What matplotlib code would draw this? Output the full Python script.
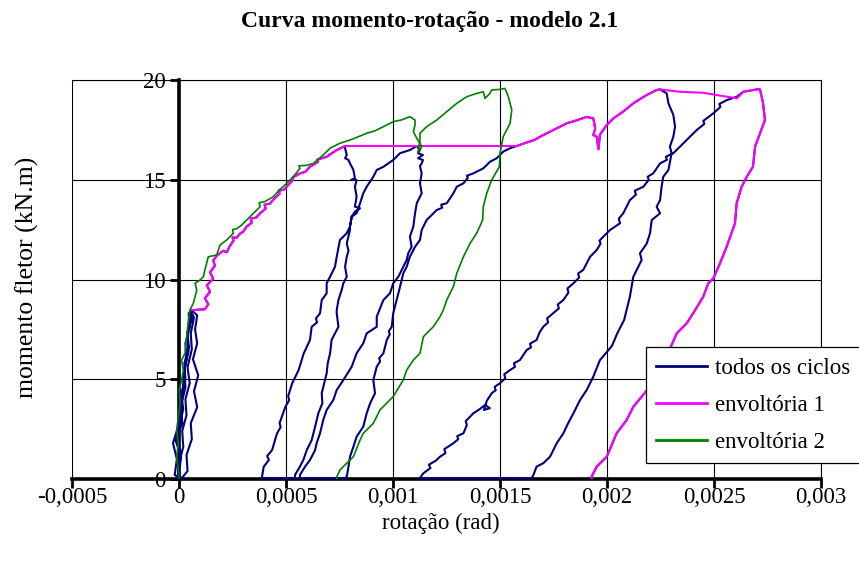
import matplotlib
matplotlib.use("Agg")
import matplotlib.pyplot as plt
import numpy as np

plt.rcParams['font.family'] = ['Liberation Serif', 'DejaVu Serif']

# Rotation values are stored in units of 1e-4 rad, moments in kN.m.
ROT_UNIT = 1e-4

x_ticks = [-0.0005, 0, 0.0005, 0.001, 0.0015, 0.002, 0.0025, 0.003]
x_tick_labels = ["-0,0005", "0", "0,0005", "0,001", "0,0015", "0,002", "0,0025", "0,003"]
y_ticks = [0, 5, 10, 15, 20]
y_tick_labels = ["0", "5", "10", "15", "20"]

series_names = ["todos os ciclos", "envoltória 1", "envoltória 2"]

# --- envoltória 1 -----------------------------------------------------------
env1_rise = [(0.59, 8.46), (1.21, 8.51), (1.37, 8.76), (1.21, 9.06), (1.45, 9.39),
             (1.30, 9.71), (1.60, 10.04), (1.45, 10.36), (1.68, 10.69), (1.60, 10.95),
             (1.76, 11.19), (2.07, 11.44), (2.23, 11.36), (2.38, 11.69), (2.55, 11.95),
             (2.50, 12.10), (2.70, 12.10), (2.85, 12.30), (3.00, 12.40), (3.16, 12.65),
             (3.40, 12.85), (3.35, 13.05), (3.60, 13.10), (3.79, 13.32), (4.05, 13.55),
             (4.00, 13.75), (4.25, 13.80), (4.39, 13.98), (4.70, 14.30), (4.65, 14.45),
             (4.90, 14.50), (5.03, 14.65), (5.33, 14.99), (5.30, 15.10), (5.65, 15.32),
             (5.90, 15.40), (6.12, 15.65), (6.50, 15.90), (6.45, 16.00), (6.90, 16.15),
             (7.10, 16.30), (7.37, 16.49), (7.76, 16.69)]
env1_mid = [(15.78, 16.69), (16.20, 16.85), (16.60, 16.99), (16.95, 17.20), (17.34, 17.41),
            (17.70, 17.60), (18.12, 17.83), (18.50, 17.95), (19.05, 18.15), (19.36, 18.07),
            (19.45, 17.57), (19.36, 17.24), (19.52, 17.16), (19.60, 16.53), (19.67, 17.26),
            (19.99, 17.75), (20.30, 18.08), (20.76, 18.42), (21.23, 18.83), (21.55, 19.05),
            (21.86, 19.25), (22.32, 19.50), (22.48, 19.53)]
env1_top = [(23.41, 19.41), (24.49, 19.36), (26.07, 19.08), (26.37, 19.41),
            (27.01, 19.53), (27.15, 19.53)]
env1_unload = [(27.29, 18.85), (27.38, 17.99), (27.15, 17.33), (26.92, 16.66), (26.82, 15.65),
               (26.53, 15.15), (26.29, 14.65), (26.06, 13.82), (25.98, 12.82), (25.59, 11.64),
               (25.28, 10.81), (24.97, 10.06), (24.73, 9.81), (24.50, 9.14), (24.03, 8.31),
               (23.72, 7.80), (23.26, 7.30), (23.02, 6.72), (22.63, 5.80), (22.01, 4.63),
               (21.23, 3.62), (20.92, 2.96), (20.45, 2.29), (19.99, 1.12), (19.52, 0.62),
               (19.28, 0.12), (19.28, 0.0)]

# --- envoltória 2 -----------------------------------------------------------
env2 = [(0, 0), (-0.03, 0.45), (-0.11, 1.12), (-0.03, 1.79), (-0.11, 2.46), (-0.03, 3.12),
        (0.05, 3.79), (0.01, 4.46), (0.12, 4.96), (0.20, 5.46), (0.12, 5.96), (0.28, 6.30),
        (0.36, 7.13), (0.44, 7.97), (0.51, 8.47), (0.67, 8.81), (0.83, 9.47), (0.75, 9.81),
        (0.98, 9.97), (1.14, 10.14), (1.21, 10.48), (1.29, 10.81), (1.37, 11.14), (1.76, 11.23),
        (1.92, 11.73), (2.23, 11.98), (2.54, 12.32), (2.50, 12.50), (2.70, 12.55), (2.93, 12.73),
        (3.32, 13.15), (3.79, 13.65), (3.75, 13.85), (4.00, 13.90), (4.41, 14.15), (4.70, 14.50),
        (5.03, 14.82), (5.34, 15.15), (5.65, 15.57), (5.60, 15.70), (5.95, 15.72), (6.28, 15.82),
        (6.74, 16.24), (7.06, 16.58), (7.52, 16.83), (7.99, 16.99), (8.46, 17.19), (8.77, 17.33),
        (9.15, 17.45), (9.55, 17.66), (10.01, 17.91), (10.40, 18.00), (10.79, 18.16),
        (11.03, 17.99), (11.03, 17.74), (10.95, 17.41), (11.11, 17.08), (11.26, 16.83),
        (11.34, 16.66), (11.26, 16.49), (11.17, 16.39), (11.26, 16.99), (11.26, 17.33),
        (11.57, 17.66), (12.04, 17.99), (12.51, 18.41), (12.98, 18.83), (13.44, 19.16),
        (13.91, 19.33), (14.22, 19.41), (14.30, 19.08), (14.53, 19.33), (14.61, 19.50),
        (15.00, 19.53), (15.23, 19.58), (15.39, 19.16), (15.55, 18.50), (15.47, 17.83),
        (15.15, 17.16), (15.00, 16.33), (14.97, 15.65), (14.61, 14.99), (14.38, 14.32),
        (14.22, 13.65), (14.19, 12.98), (13.91, 12.32), (13.60, 11.81), (13.29, 11.14),
        (12.98, 10.31), (12.82, 9.64), (12.51, 8.97), (12.35, 8.47), (12.20, 8.14),
        (11.88, 7.63), (11.42, 7.13), (11.26, 6.30), (10.95, 5.96), (10.64, 5.46),
        (10.48, 4.96), (10.01, 4.13), (9.39, 3.46), (9.08, 2.79), (8.61, 2.29), (8.46, 1.95),
        (8.15, 1.12), (7.84, 0.79), (7.52, 0.45), (7.37, 0.10), (7.37, 0.0)]

# --- todos os ciclos ----------------------------------------------------------
cyc_initial = [(0, 0), (-0.05, 0.6), (0.10, 1.3), (-0.10, 2.0), (0.05, 2.8), (0.20, 3.5),
               (0.10, 4.3), (0.30, 5.0), (0.25, 5.8), (0.45, 6.6), (0.40, 7.4), (0.60, 8.0),
               (0.55, 8.4), (0.70, 8.1), (0.55, 7.3), (0.60, 6.5), (0.40, 5.6), (0.50, 4.8),
               (0.30, 4.0), (0.35, 3.2), (0.15, 2.4), (0.20, 1.6), (0.00, 0.8), (-0.05, 0.1),
               (-0.20, 0.2), (-0.10, 1.0), (-0.28, 1.8), (-0.05, 2.6), (0.05, 3.5), (0.20, 4.3),
               (0.20, 5.2), (0.35, 6.0), (0.30, 6.8), (0.50, 7.6), (0.45, 8.3), (0.60, 8.45),
               (0.85, 8.2), (0.75, 7.5), (0.85, 6.8), (0.65, 6.0), (0.90, 5.2), (0.70, 4.4),
               (0.85, 3.6), (0.55, 2.8), (0.60, 2.0), (0.35, 1.2), (0.40, 0.4), (0.10, 0.0),
               (0.00, 0.3), (0.10, 1.1), (-0.15, 1.9), (0.15, 2.8), (0.10, 3.7), (0.30, 4.6),
               (0.25, 5.5), (0.45, 6.4), (0.40, 7.3), (0.59, 8.46)]
cyc_unload1 = [(7.76, 16.58), (7.84, 16.24), (7.76, 16.08), (7.92, 15.99), (7.99, 15.82),
               (8.15, 15.49), (8.22, 15.07), (8.04, 14.99), (8.30, 14.99), (8.22, 14.65),
               (8.30, 14.15), (8.22, 13.65), (8.46, 13.57), (8.22, 13.40), (8.07, 13.15),
               (7.99, 12.65), (7.99, 12.48), (7.84, 11.81), (7.92, 11.45), (7.84, 11.14),
               (7.76, 10.64), (7.84, 10.14), (7.68, 9.81), (7.60, 9.47), (7.45, 8.97),
               (7.37, 8.47), (7.37, 8.31), (7.45, 7.63), (7.13, 6.97), (7.06, 6.30),
               (6.95, 5.80), (6.90, 5.30), (6.67, 4.30), (6.70, 3.80), (6.51, 3.29),
               (6.36, 2.62), (6.20, 1.95), (5.97, 1.45), (5.81, 0.95), (5.65, 0.62),
               (5.42, 0.20), (5.42, 0.05), (4.60, 0.05)]
cyc_reload2 = [(3.88, 0.05), (3.88, 0.12), (3.96, 0.62), (4.20, 0.95), (4.12, 1.15),
               (4.35, 1.45), (4.58, 2.29), (4.75, 2.60), (4.70, 2.80), (4.97, 3.62),
               (5.15, 3.95), (5.10, 4.15), (5.29, 4.80), (5.59, 5.46), (5.83, 6.30),
               (6.12, 6.97), (6.20, 7.63), (6.45, 7.85), (6.40, 8.05), (6.59, 8.31),
               (6.67, 8.97), (6.90, 9.31), (6.90, 9.81), (7.06, 10.14), (7.29, 10.64),
               (7.37, 11.14), (7.52, 11.98), (7.84, 12.32), (7.99, 12.65), (8.07, 13.15),
               (8.30, 13.32), (8.46, 13.82), (8.61, 14.32), (8.77, 14.65), (9.08, 15.15),
               (9.24, 15.49), (9.55, 15.65), (10.01, 15.99), (10.33, 16.33), (10.79, 16.49),
               (11.11, 16.69)]
cyc_unload2 = [(11.26, 16.49), (11.17, 16.33), (11.40, 16.24), (11.17, 16.08), (11.40, 15.99),
               (11.34, 15.82), (11.26, 15.69), (11.34, 15.32), (11.26, 14.82), (11.34, 14.32),
               (11.11, 13.82), (11.03, 13.32), (10.95, 12.65), (10.79, 12.15), (10.87, 11.64),
               (10.71, 11.31), (10.64, 10.98), (10.48, 10.64), (10.25, 10.14), (10.01, 9.81),
               (9.86, 9.31), (9.55, 8.97), (9.24, 8.14), (9.24, 7.63), (8.77, 7.30),
               (8.61, 6.80), (8.30, 6.30), (8.07, 5.63), (7.68, 4.96), (7.37, 4.46),
               (7.21, 3.96), (6.90, 3.46), (6.74, 2.96), (6.59, 2.29), (6.43, 1.79),
               (6.36, 1.45), (6.12, 0.95), (5.89, 0.62), (5.65, 0.20), (5.65, 0.05),
               (7.76, 0.05)]
cyc_reload3 = [(7.84, 0.12), (7.92, 0.62), (7.99, 1.12), (8.15, 1.62), (8.30, 2.12),
               (8.61, 2.62), (8.77, 3.29), (8.93, 3.79), (9.16, 4.30), (9.08, 4.96),
               (9.24, 5.63), (9.40, 5.90), (9.35, 6.05), (9.55, 6.30), (9.71, 6.97),
               (9.85, 7.25), (9.80, 7.40), (9.94, 7.63), (10.01, 8.31), (10.17, 8.97),
               (10.33, 9.64), (10.48, 10.31), (10.64, 10.64), (10.79, 11.14), (11.03, 11.64),
               (11.26, 11.98), (11.34, 12.48), (11.57, 12.98), (12.04, 13.48), (12.30, 13.60),
               (12.25, 13.75), (12.51, 13.82), (12.82, 14.32), (12.98, 14.65), (13.29, 14.82),
               (13.50, 15.10), (13.45, 15.20), (13.75, 15.32), (14.22, 15.57), (14.53, 15.90),
               (14.85, 16.08), (15.15, 16.41), (15.47, 16.58)]
cyc_unload3 = [(22.79, 19.33), (22.87, 18.83), (23.10, 18.25), (23.18, 17.66), (23.10, 17.16),
               (22.94, 16.66), (23.02, 16.33), (22.87, 15.49), (22.63, 15.15), (22.55, 14.65),
               (22.48, 13.98), (22.32, 13.65), (22.48, 13.32), (22.09, 12.98), (22.01, 12.32),
               (21.86, 11.81), (21.54, 11.31), (21.62, 10.98), (21.23, 10.14), (21.07, 9.14),
               (20.80, 7.97), (20.48, 7.30), (20.23, 6.67), (19.67, 5.96), (19.36, 5.13),
               (19.05, 4.46), (18.74, 3.96), (18.43, 3.29), (18.18, 2.79), (17.96, 2.29),
               (17.65, 1.79), (17.34, 1.12), (17.02, 0.79), (16.71, 0.62), (16.56, 0.20),
               (16.48, 0.05)]
cyc_reload4 = [(11.26, 0.05), (11.42, 0.29), (11.75, 0.55), (11.68, 0.72), (12.00, 0.92),
               (12.20, 1.12), (12.45, 1.30), (12.40, 1.50), (12.82, 1.79), (13.05, 2.00),
               (13.00, 2.15), (13.29, 2.29), (13.45, 2.70), (13.40, 2.90), (13.75, 3.29),
               (14.05, 3.50), (14.30, 3.71), (14.53, 3.55), (14.25, 3.46), (14.38, 3.91),
               (14.61, 4.30), (14.80, 4.45), (14.75, 4.62), (15.00, 4.80), (15.25, 5.05),
               (15.20, 5.25), (15.47, 5.46), (15.70, 5.62), (15.65, 5.80), (15.93, 5.96),
               (16.25, 6.47), (16.45, 6.60), (16.40, 6.78), (16.71, 6.97), (16.85, 7.35),
               (17.02, 7.63), (17.25, 7.85), (17.20, 8.05), (17.49, 8.31), (17.75, 8.55),
               (17.70, 8.75), (17.96, 8.97), (18.20, 9.35), (18.15, 9.55), (18.43, 9.81),
               (18.70, 10.10), (18.65, 10.30), (18.89, 10.48), (19.21, 11.14), (19.52, 11.48),
               (19.70, 11.80), (19.65, 11.95), (19.83, 12.15), (19.99, 12.32), (20.14, 12.48),
               (20.61, 12.82), (20.55, 13.05), (20.76, 13.32), (21.07, 13.98), (21.35, 14.25),
               (21.30, 14.45), (21.70, 14.65), (21.95, 15.00), (21.90, 15.15), (22.16, 15.32),
               (22.48, 15.82), (22.80, 16.00), (22.75, 16.15), (23.10, 16.33), (23.57, 16.83),
               (23.88, 17.16), (24.19, 17.49), (24.55, 17.80), (24.50, 17.95), (24.97, 18.33),
               (25.30, 18.65), (25.25, 18.80), (25.59, 18.99), (26.06, 19.16), (26.37, 19.41),
               (27.01, 19.53), (27.15, 19.53)]


def xy(*parts):
    pts = np.array([p for part in parts for p in part], dtype=float)
    return pts[:, 0] * ROT_UNIT, pts[:, 1]


cyc_x, cyc_y = xy(cyc_initial, env1_rise, cyc_unload1, cyc_reload2, cyc_unload2,
                  cyc_reload3, env1_mid, cyc_unload3, cyc_reload4, env1_unload)
e1_x, e1_y = xy(env1_rise, env1_mid, env1_top, env1_unload)
e2_x, e2_y = xy(env2)

fig = plt.figure(figsize=(8.59, 5.72), dpi=100)
ax = fig.add_axes([72 / 859, 93 / 572, 749 / 859, 399 / 572])

ax.plot(cyc_x, cyc_y, color="#000080", lw=1.5, label=series_names[0], zorder=3)
ax.plot(e1_x, e1_y, color="#FF00FF", lw=1.5, label=series_names[1], zorder=4)
ax.plot(e2_x, e2_y, color="#008000", lw=1.2, label=series_names[2], zorder=5)

ax.set_xlim(x_ticks[0], x_ticks[-1])
ax.set_ylim(y_ticks[0], y_ticks[-1])
ax.set_xticks(x_ticks)
ax.set_xticklabels(x_tick_labels)
ax.set_yticks(y_ticks)
ax.set_yticklabels(y_tick_labels)

ax.grid(True, color="black", lw=0.8)
ax.set_axisbelow(True)

ax.spines["left"].set_position(("data", 0))
ax.spines["left"].set_linewidth(2.6)
ax.spines["bottom"].set_linewidth(2.6)
for side in ("top", "right"):
    ax.spines[side].set_linewidth(0.8)

ax.tick_params(axis="y", direction="out", length=6.5, width=2.0, pad=3,
               labelsize=16.5)
ax.tick_params(axis="x", direction="out", length=6.5, width=2.0, pad=-1,
               labelsize=16.5)

fig.text(441 / 859, 1 - 523 / 572, "rotação (rad)", ha="center", va="center",
         fontsize=16.5)
fig.text(27 / 859, 1 - 277 / 572, "momento fletor (kN.m)", ha="center", va="center",
         rotation=90, fontsize=18.5)
fig.text(430 / 859, 1 - 22 / 572, "Curva momento-rotação - modelo 2.1", ha="center",
         va="center", fontsize=17, fontweight="bold")

leg = ax.legend(loc="lower left", bbox_to_anchor=(646 / 859, 109 / 572),
                bbox_transform=fig.transFigure, fontsize=16.5, frameon=True,
                fancybox=False, edgecolor="black", framealpha=1,
                handlelength=2.2, handletextpad=0.35, labelspacing=0.7,
                borderpad=0.45, borderaxespad=0)
leg.get_frame().set_linewidth(0.9)
for line in leg.get_lines():
    line.set_linewidth(2.0)

fig.savefig("out.png", dpi=100)
